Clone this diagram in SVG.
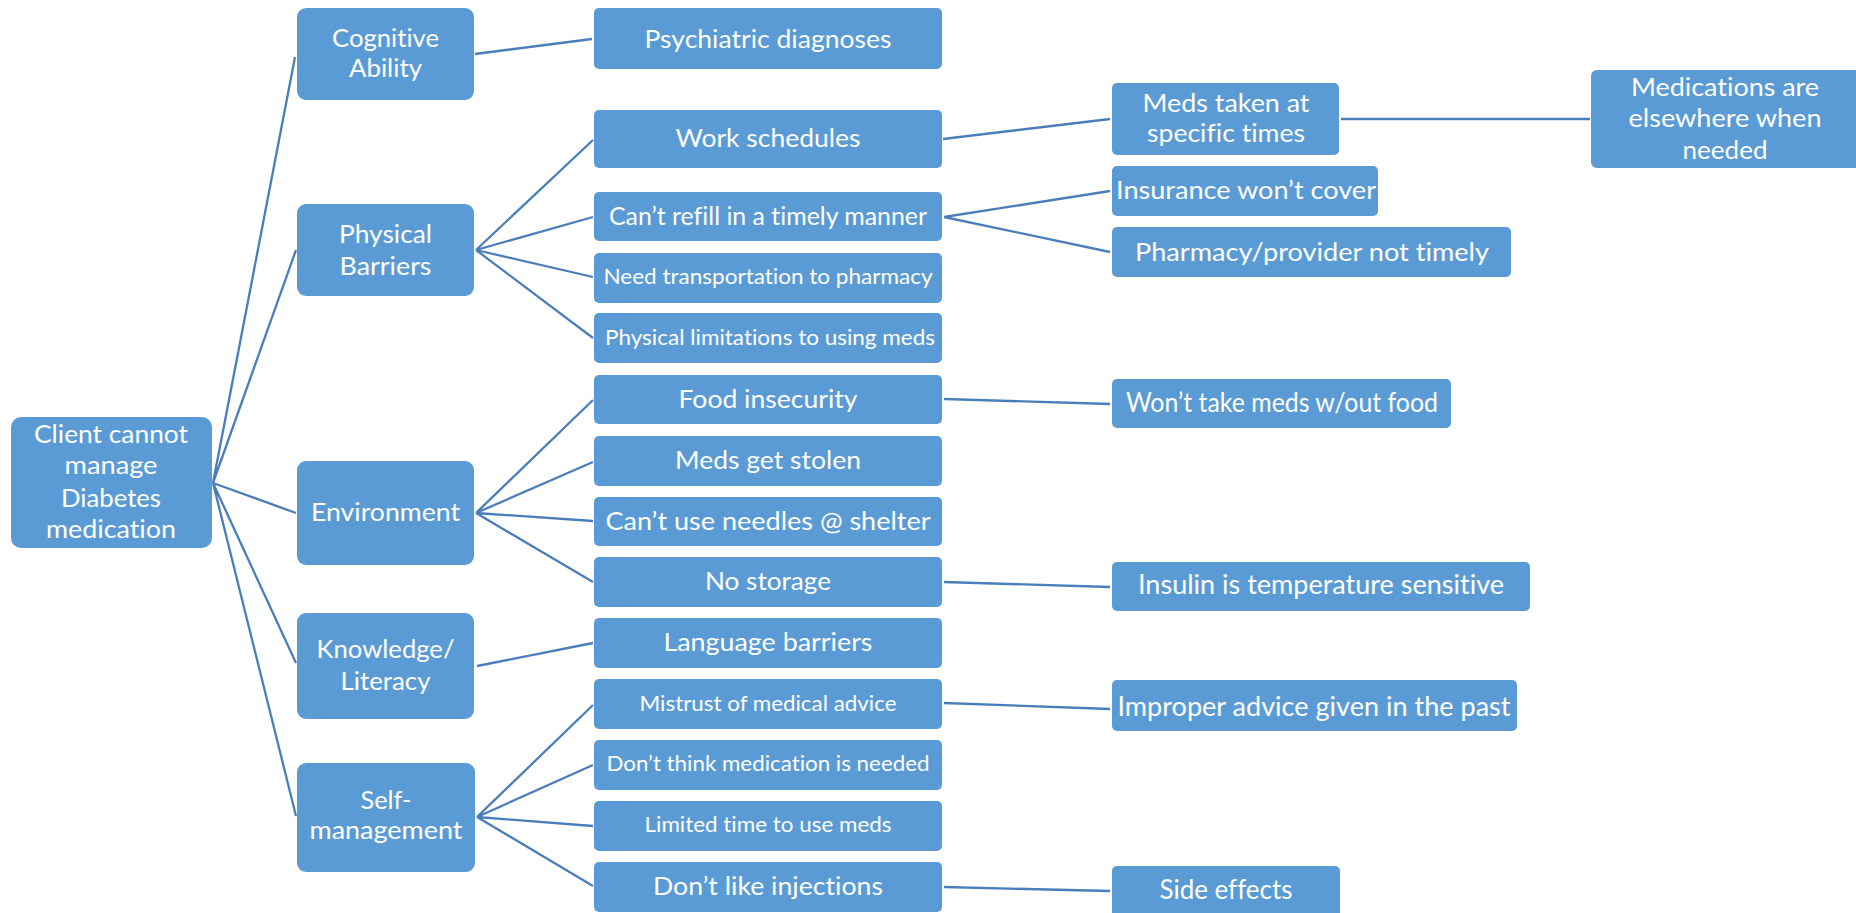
<svg xmlns="http://www.w3.org/2000/svg" width="1856" height="913" viewBox="0 0 1856 913">
<style>
.b{fill:#5B9BD5;}
.t{font-family:Lato,"Open Sans","Liberation Sans",sans-serif;font-size:25.5px;fill:#ffffff;text-anchor:middle;font-variant-ligatures:none;}
.s{font-size:22px;}
.w{font-size:26px;}
.c{stroke:#4A7EBB;stroke-width:2.3;fill:none;}
</style>
<rect width="1856" height="913" fill="#ffffff"/>
<g id="connectors" class="c">
<path d="M213,483L295,57M213,483L296,250M213,483L296,513M213,483L296,663M213,483L296,816"/>
<path d="M475,54L592,39"/>
<path d="M476,250L593,140M476,250L593,217M476,250L593,277M476,250L593,338"/>
<path d="M476,513L593,400M476,513L593,462M476,513L593,521M476,513L593,582"/>
<path d="M477,666L593,643"/>
<path d="M477,817L593,705M477,817L593,765M477,817L593,826M477,817L593,886"/>
<path d="M943,139L1110,119M944,217L1110,191M944,217L1110,252M944,399L1110,404M944,582L1110,587M944,703L1110,709M944,887L1110,891M1341,119L1590,119"/>
</g>
<g id="root"><rect class="b" x="11" y="417" width="201" height="131" rx="10"/>
<text class="t" x="111" y="443" textLength="154" lengthAdjust="spacingAndGlyphs">Client cannot</text>
<text class="t" x="111" y="474" textLength="93" lengthAdjust="spacingAndGlyphs">manage</text>
<text class="t" x="111" y="507" textLength="100" lengthAdjust="spacingAndGlyphs">Diabetes</text>
<text class="t" x="111" y="538" textLength="130" lengthAdjust="spacingAndGlyphs">medication</text></g>
<g id="cognitive"><rect class="b" x="297" y="8" width="177" height="92" rx="9"/>
<text class="t" x="385.5" y="47" textLength="107" lengthAdjust="spacingAndGlyphs">Cognitive</text>
<text class="t" x="385.5" y="77" textLength="73" lengthAdjust="spacingAndGlyphs">Ability</text></g>
<g id="physical"><rect class="b" x="297" y="204" width="177" height="92" rx="9"/>
<text class="t" x="385.5" y="243" textLength="93" lengthAdjust="spacingAndGlyphs">Physical</text>
<text class="t" x="385.5" y="275" textLength="92" lengthAdjust="spacingAndGlyphs">Barriers</text></g>
<g id="environment"><rect class="b" x="297" y="461" width="177" height="104" rx="9"/>
<text class="t" x="385.5" y="521" textLength="149" lengthAdjust="spacingAndGlyphs">Environment</text></g>
<g id="knowledge"><rect class="b" x="297" y="613" width="177" height="106" rx="9"/>
<text class="t" x="385.5" y="658" textLength="138" lengthAdjust="spacingAndGlyphs">Knowledge/</text>
<text class="t" x="385.5" y="690" textLength="90" lengthAdjust="spacingAndGlyphs">Literacy</text></g>
<g id="selfmanagement"><rect class="b" x="297" y="763" width="178" height="109" rx="9"/>
<text class="t" x="386" y="809" textLength="51" lengthAdjust="spacingAndGlyphs">Self-</text>
<text class="t" x="386" y="839" textLength="153" lengthAdjust="spacingAndGlyphs">management</text></g>
<g id="psychiatric"><rect class="b" x="594" y="8" width="348" height="61" rx="5"/>
<text class="t" x="768" y="48" textLength="247" lengthAdjust="spacingAndGlyphs">Psychiatric diagnoses</text></g>
<g id="work"><rect class="b" x="594" y="110" width="348" height="58" rx="5"/>
<text class="t" x="768" y="147" textLength="185" lengthAdjust="spacingAndGlyphs">Work schedules</text></g>
<g id="refill"><rect class="b" x="594" y="192" width="348" height="49" rx="5"/>
<text class="t" x="768" y="225" textLength="318" lengthAdjust="spacingAndGlyphs">Can’t refill in a timely manner</text></g>
<g id="transport"><rect class="b" x="594" y="253" width="348" height="50" rx="5"/>
<text class="t s" x="768" y="284" textLength="329" lengthAdjust="spacingAndGlyphs">Need transportation to pharmacy</text></g>
<g id="limitations"><rect class="b" x="594" y="313" width="348" height="50" rx="5"/>
<text class="t s" x="770" y="345" textLength="330" lengthAdjust="spacingAndGlyphs">Physical limitations to using meds</text></g>
<g id="food"><rect class="b" x="594" y="375" width="348" height="49" rx="5"/>
<text class="t" x="768" y="408" textLength="179" lengthAdjust="spacingAndGlyphs">Food insecurity</text></g>
<g id="stolen"><rect class="b" x="594" y="436" width="348" height="50" rx="5"/>
<text class="t" x="768" y="469" textLength="186" lengthAdjust="spacingAndGlyphs">Meds get stolen</text></g>
<g id="needles"><rect class="b" x="594" y="497" width="348" height="49" rx="5"/>
<text class="t" x="768" y="530" textLength="325" lengthAdjust="spacingAndGlyphs">Can’t use needles @ shelter</text></g>
<g id="storage"><rect class="b" x="594" y="557" width="348" height="50" rx="5"/>
<text class="t" x="768" y="590" textLength="126" lengthAdjust="spacingAndGlyphs">No storage</text></g>
<g id="language"><rect class="b" x="594" y="618" width="348" height="50" rx="5"/>
<text class="t" x="768" y="651" textLength="209" lengthAdjust="spacingAndGlyphs">Language barriers</text></g>
<g id="mistrust"><rect class="b" x="594" y="679" width="348" height="50" rx="5"/>
<text class="t s" x="768" y="711" textLength="257" lengthAdjust="spacingAndGlyphs">Mistrust of medical advice</text></g>
<g id="dontthink"><rect class="b" x="594" y="740" width="348" height="50" rx="5"/>
<text class="t s" x="768" y="771" textLength="323" lengthAdjust="spacingAndGlyphs">Don’t think medication is needed</text></g>
<g id="limited"><rect class="b" x="594" y="801" width="348" height="50" rx="5"/>
<text class="t s" x="768" y="832" textLength="247" lengthAdjust="spacingAndGlyphs">Limited time to use meds</text></g>
<g id="injections"><rect class="b" x="594" y="862" width="348" height="50" rx="5"/>
<text class="t" x="768" y="895" textLength="230" lengthAdjust="spacingAndGlyphs">Don’t like injections</text></g>
<g id="medstaken"><rect class="b" x="1112" y="83" width="227" height="72" rx="5"/>
<text class="t" x="1226" y="112" textLength="167" lengthAdjust="spacingAndGlyphs">Meds taken at</text>
<text class="t" x="1226" y="142" textLength="158" lengthAdjust="spacingAndGlyphs">specific times</text></g>
<g id="insurance"><rect class="b" x="1112" y="166" width="266" height="50" rx="5"/>
<text class="t" x="1246" y="199" textLength="260" lengthAdjust="spacingAndGlyphs">Insurance won’t cover</text></g>
<g id="pharmacy"><rect class="b" x="1112" y="227" width="399" height="50" rx="5"/>
<text class="t" x="1312" y="261" textLength="354" lengthAdjust="spacingAndGlyphs">Pharmacy/provider not timely</text></g>
<g id="elsewhere"><rect class="b" x="1591" y="70" width="270" height="98" rx="6"/>
<text class="t" x="1725" y="96" textLength="188" lengthAdjust="spacingAndGlyphs">Medications are</text>
<text class="t" x="1725" y="127" textLength="193" lengthAdjust="spacingAndGlyphs">elsewhere when</text>
<text class="t" x="1725" y="159" textLength="85" lengthAdjust="spacingAndGlyphs">needed</text></g>
<g id="wonttake"><rect class="b" x="1112" y="379" width="339" height="49" rx="5"/>
<text class="t w" x="1282" y="412" textLength="312" lengthAdjust="spacingAndGlyphs">Won’t take meds w/out food</text></g>
<g id="insulin"><rect class="b" x="1112" y="562" width="418" height="49" rx="5"/>
<text class="t w" x="1321" y="594" textLength="366" lengthAdjust="spacingAndGlyphs">Insulin is temperature sensitive</text></g>
<g id="improper"><rect class="b" x="1112" y="680" width="405" height="51" rx="5"/>
<text class="t w" x="1314" y="716" textLength="393" lengthAdjust="spacingAndGlyphs">Improper advice given in the past</text></g>
<g id="sideeffects"><rect class="b" x="1112" y="866" width="228" height="52" rx="5"/>
<text class="t w" x="1226" y="899" textLength="133" lengthAdjust="spacingAndGlyphs">Side effects</text></g>
</svg>
